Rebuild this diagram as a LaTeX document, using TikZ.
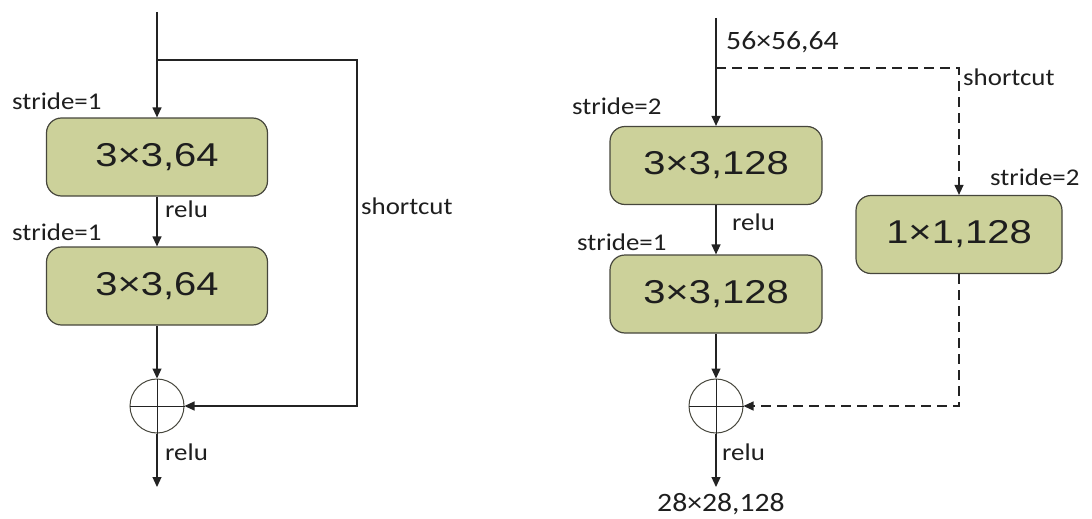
\documentclass[tikz,border=0pt]{standalone}
\usepackage{fontspec}
\setmainfont{Carlito}
\newfontfamily\boxfont[FakeStretch=1.21]{Liberation Sans}
\newfontfamily\lblfont[FakeStretch=1.12]{Carlito}
\usetikzlibrary{arrows.meta}
\definecolor{boxfill}{RGB}{204,209,154}
\definecolor{boxedge}{RGB}{70,70,60}
\definecolor{linec}{RGB}{35,35,35}
\definecolor{txtc}{RGB}{30,30,30}
\begin{document}
\begin{tikzpicture}[x=1pt,y=-1pt,
  conv/.style={draw=boxedge, line width=1.2pt, fill=boxfill, rounded corners=15pt,
    minimum height=78pt, inner sep=0pt, text=txtc,
    font=\boxfont\fontsize{33}{33}\selectfont},
  convL/.style={conv, minimum width=221pt},
  convR/.style={conv, minimum width=212pt},
  sum/.style={circle, draw=boxedge, line width=1pt, minimum size=54pt, inner sep=0pt},
  cross/.style={draw=linec, line width=1pt},
  lbl/.style={font=\lblfont\fontsize{24}{24}\selectfont, text=txtc, inner sep=0pt, anchor=base west},
  numlbl/.style={lbl, font=\lblfont\fontsize{26.5}{26.5}\selectfont},
  flow/.style={draw=linec, line width=1.2pt, -{Triangle[length=10pt,width=9pt]}},
  dashpat/.style={dash pattern=on 10pt off 6pt}
]
\useasboundingbox (0,0) rectangle (1092,519);

% ---------------- left block ----------------
\coordinate (inL) at (157,12);
\coordinate (brL) at (157,60);
\node[convL] (a1) at (157,157) {3×3,64};
\node[convL] (a2) at (157,286) {3×3,64};
\node[sum] (s1) at (157,406) {};
\coordinate (outL) at (157,487);
\coordinate (c1) at (357,60);
\coordinate (c2) at (357,406);

\draw[cross] (s1.north) -- (s1.south) (s1.west) -- (s1.east);
\draw[flow] (inL) -- (a1.north);
\draw[flow] (brL) -- (c1) -- (c2) -- (s1.east);
\draw[flow] (a1) -- (a2);
\draw[flow] (a2) -- (s1.north);
\draw[flow] (s1.south) -- (outL);

\node[lbl] (st1) at (12,110) {stride=1};
\node[lbl] (r1) at (165,217) {relu};
\node[lbl] (st2) at (12,240) {stride=1};
\node[lbl] (r2) at (165,460) {relu};
\node[lbl] (sc1) at (361,214) {shortcut};

% ---------------- right block ----------------
\coordinate (inR) at (716,18);
\coordinate (brR) at (716,68);
\node[convR] (b1) at (716,165.5) {3×3,128};
\node[convR] (b2) at (716,294) {3×3,128};
\node[conv, minimum width=206pt] (b3) at (959,234.5) {1×1,128};
\node[sum] (s2) at (716,406) {};
\coordinate (outR) at (716,487);
\coordinate (d1) at (959,68);
\coordinate (d2) at (959,406);

\draw[cross] (s2.north) -- (s2.south) (s2.west) -- (s2.east);
\draw[flow] (inR) -- (b1.north);
\draw[flow, dashpat] (brR) -- (d1) -- (b3.north);
\draw[flow, dashpat] (b3.south) -- (d2) -- (s2.east);
\draw[flow] (b1) -- (b2);
\draw[flow] (b2) -- (s2.north);
\draw[flow] (s2.south) -- (outR);

\node[numlbl] (inlbl) at (726,50) {56×56,64};
\node[lbl] (sc2) at (963,85) {shortcut};
\node[lbl] (st3) at (572,114) {stride=2};
\node[lbl] (st4) at (990,185) {stride=2};
\node[lbl] (r3) at (732,230) {relu};
\node[lbl] (st5) at (577,250) {stride=1};
\node[lbl] (r4) at (722,460) {relu};
\node[numlbl] (outlbl) at (657,511) {28×28,128};
\end{tikzpicture}
\end{document}
